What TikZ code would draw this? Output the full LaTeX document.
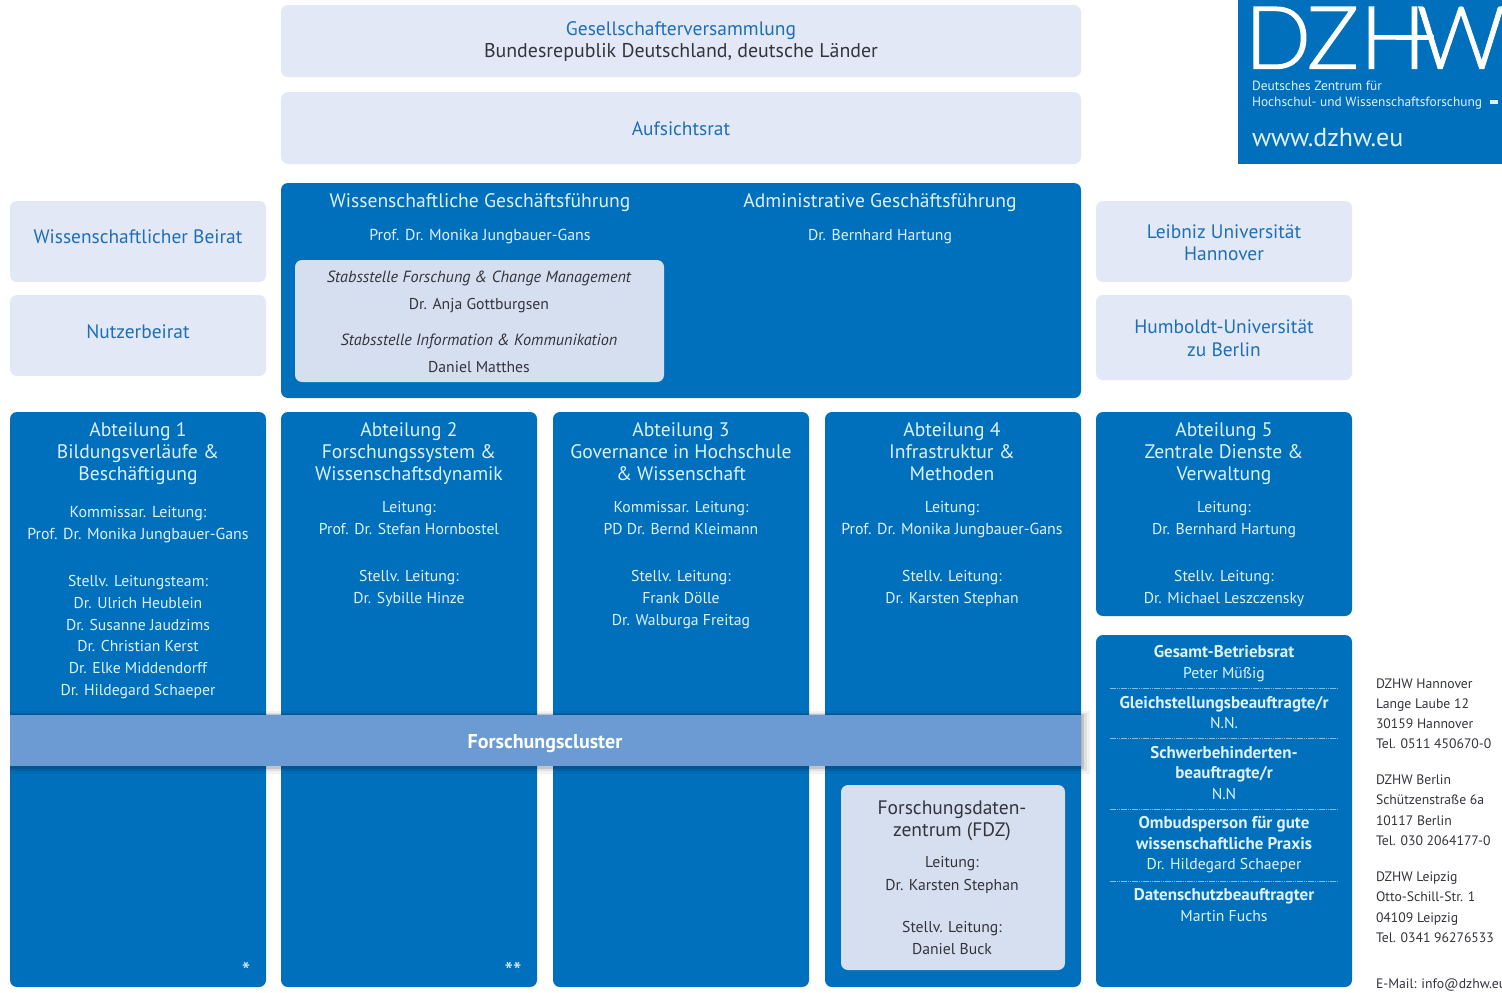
\documentclass[tikz,border=0pt]{standalone}
\usepackage{fontspec}
\setmainfont{PT Sans}
\newfontfamily\logofont[UprightFont=* Light,FakeBold=1.3]{Lato}
\definecolor{dzblue}{HTML}{0070BC}
\definecolor{palebox}{HTML}{E2E8F5}
\definecolor{stabbox}{HTML}{D6DFF0}
\definecolor{clusterblue}{HTML}{6B9BD2}
\definecolor{ondark}{HTML}{DDF1FB}
\definecolor{onpale}{HTML}{1E6FB8}
\definecolor{inkdark}{HTML}{33343C}
\newcommand{\lines}[6]{%
  \foreach \t [count=\i] in {#6}{%
    \node[#2] (#1-\i) at (#3,{#4+(\i-1)*#5}) {\t};
  }}
\newcommand{\fs}[1]{\fontsize{#1}{#1}\selectfont}
\tikzset{
  tl/.style={anchor=base,inner sep=0pt,outer sep=0pt,yshift=-0.6pt},
  box/.style={anchor=north west,inner sep=0pt,outer sep=0pt,rounded corners=7pt},
  bluebox/.style={box,fill=dzblue},
  palefill/.style={box,fill=palebox},
  hd/.style={tl,font=\fs{19.6},text=ondark},
  sm/.style={tl,font=\fs{15.7},text=ondark},
  smw/.style={tl,font=\fs{15.9},text=ondark},
  smb/.style={tl,font=\fs{17}\bfseries,text=ondark},
  hdpale/.style={tl,font=\fs{19.4},text=onpale},
  addr/.style={tl,anchor=base west,font=\fs{13.7},text=inkdark},
  logoletter/.style={tl,font=\logofont\fs{87},text=white},
}
\newcommand{\bx}[7]{% style,name,x0,y0,x1,y1
  \node[#1,minimum width=#5pt-#3pt,minimum height=#6pt-#4pt] (#2) at (#3,#4) {};}
\begin{document}
\begin{tikzpicture}[x=1pt,y=-1pt]
\useasboundingbox (0,0) rectangle (1502,993);
\fill[white] (0,0) rectangle (1502,993);

% governance boxes
\bx{palefill}{gv}{281}{5}{1081}{77}{}
\bx{palefill}{ar}{281}{92}{1081}{164}{}
\bx{palefill}{wb}{10}{201}{266}{282}{}
\bx{palefill}{nb}{10}{295}{266}{376}{}
\bx{palefill}{lu}{1096}{201}{1352}{282}{}
\bx{palefill}{hu}{1096}{295}{1352}{380}{}
\node[tl,font=\fs{19.5},text=onpale] (gv-a) at (681,35) {Gesellschafterversammlung};
\node[tl,font=\fs{19.9},text=inkdark] (gv-b) at (681,57) {Bundesrepublik Deutschland, deutsche Länder};
\node[hdpale] (ar-t) at (681,135) {Aufsichtsrat};
\node[hdpale] (wb-t) at (138,243) {Wissenschaftlicher Beirat};
\node[hdpale] (nb-t) at (138,338) {Nutzerbeirat};
\lines{lu}{hdpale}{1224}{238}{22}{Leibniz Universität,Hannover}
\lines{hu}{hdpale}{1224}{333}{23}{Humboldt-Universität,zu Berlin}

% logo
\node[anchor=north west,inner sep=0pt,fill=dzblue,minimum width=264pt,minimum height=164pt] (logo) at (1238,0) {};
\node[logoletter] (logo-d) at (1278,68) {D};
\node[logoletter] (logo-z) at (1333,68) {Z};
\node[logoletter] (logo-h) at (1393,68) {H};
\node[logoletter] (logo-w) at (1461,68) {W};
\fill[white] (1396,35) rectangle (1434,40);
\node[tl,anchor=base west,font=\fs{13.4},text=ondark] (logo-t1) at (1252,90) {Deutsches Zentrum für};
\node[tl,anchor=base west,font=\fs{13.4},text=ondark] (logo-t2) at (1252,106) {Hochschul- und Wissenschaftsforschung};
\node[anchor=center,inner sep=0pt,fill=ondark,minimum width=8pt,minimum height=4pt] (logo-f) at (1494,102) {};
\node[tl,anchor=base west,font=\fs{26},text=ondark] (logo-g) at (1252,146) {www.dzhw.eu};

% management
\bx{bluebox}{gf}{281}{183}{1081}{398}{}
\node[hd] (gf-a) at (480,207) {Wissenschaftliche Geschäftsführung};
\node[hd] (gf-b) at (880,207) {Administrative Geschäftsführung};
\node[smw] (gf-c) at (480,240) {Prof. Dr. Monika Jungbauer-Gans};
\node[sm] (gf-d) at (880,240) {Dr. Bernhard Hartung};
\bx{box,fill=stabbox}{st}{295}{260}{664}{382}{}
\node[tl,font=\fs{16.2}\itshape,text=inkdark] (st-a) at (479,282) {Stabsstelle Forschung \& Change Management};
\node[tl,font=\fs{15.7},text=inkdark] (st-b) at (479,309) {Dr. Anja Gottburgsen};
\node[tl,font=\fs{16.2}\itshape,text=inkdark] (st-c) at (479,345) {Stabsstelle Information \& Kommunikation};
\node[tl,font=\fs{15.7},text=inkdark] (st-d) at (479,372) {Daniel Matthes};

% departments
\bx{bluebox}{a1}{10}{412}{266}{987}{}
\bx{bluebox}{a2}{281}{412}{537}{987}{}
\bx{bluebox}{a3}{553}{412}{809}{987}{}
\bx{bluebox}{a4}{825}{412}{1081}{987}{}
\bx{bluebox}{a5}{1096}{412}{1352}{616}{}
\bx{bluebox}{br}{1096}{635}{1352}{987}{}

\lines{a1h}{hd}{138}{436}{22}{Abteilung 1,Bildungsverläufe \&,Beschäftigung}
\lines{a1l}{smw}{138}{517}{21.5}{Kommissar. Leitung:,Prof. Dr. Monika Jungbauer-Gans}
\lines{a1s}{sm}{138}{586}{21.7}{Stellv. Leitungsteam:,Dr. Ulrich Heublein,Dr. Susanne Jaudzims,Dr. Christian Kerst,Dr. Elke Middendorff,Dr. Hildegard Schaeper}
\lines{a2h}{hd}{409}{436}{22}{Abteilung 2,Forschungssystem \&,Wissenschaftsdynamik}
\lines{a2l}{sm}{409}{512}{22}{Leitung:,Prof. Dr. Stefan Hornbostel}
\lines{a2s}{sm}{409}{581}{22}{Stellv. Leitung:,Dr. Sybille Hinze}
\lines{a3h}{hd}{681}{436}{22}{Abteilung 3,Governance in Hochschule,\& Wissenschaft}
\lines{a3l}{sm}{681}{512}{22}{Kommissar. Leitung:,PD Dr. Bernd Kleimann}
\lines{a3s}{sm}{681}{581}{21.7}{Stellv. Leitung:,Frank Dölle,Dr. Walburga Freitag}
\lines{a4h}{hd}{952}{436}{22}{Abteilung 4,Infrastruktur \&,Methoden}
\lines{a4l}{smw}{952}{512}{22}{Leitung:,Prof. Dr. Monika Jungbauer-Gans}
\lines{a4s}{sm}{952}{581}{22}{Stellv. Leitung:,Dr. Karsten Stephan}
\lines{a5h}{hd}{1224}{436}{22}{Abteilung 5,Zentrale Dienste \&,Verwaltung}
\lines{a5l}{sm}{1224}{512}{22}{Leitung:,Dr. Bernhard Hartung}
\lines{a5s}{sm}{1224}{581}{22}{Stellv. Leitung:,Dr. Michael Leszczensky}
\node[tl,font=\fs{24},text=ondark] (star-a) at (246,979) {*};
\node[tl,font=\fs{24},text=ondark] (star-b) at (513,979) {**};

% research cluster
\fill[black,opacity=.05] (10,711) rectangle (1090,774);
\fill[black,opacity=.08] (10,713) rectangle (1087,771);
\fill[black,opacity=.12] (10,714) rectangle (1084,768.5);
\node[box,rounded corners=0pt,fill=clusterblue,minimum width=1071pt,minimum height=51pt] (fc) at (10,715) {};
\node[tl,font=\fs{20}\bfseries,text=white] (fc-t) at (545,748) {Forschungscluster};

% FDZ
\bx{box,fill=stabbox}{fdz}{841}{785}{1065}{970}{}
\lines{fdzh}{tl,font=\fs{19.5},text=inkdark}{952}{814}{22}{Forschungsdaten-,zentrum (FDZ)}
\lines{fdzl}{tl,font=\fs{15.7},text=inkdark}{952}{867}{23}{Leitung:,Dr. Karsten Stephan}
\lines{fdzs}{tl,font=\fs{15.7},text=inkdark}{952}{932}{22}{Stellv. Leitung:,Daniel Buck}

% representatives
\node[smb] (br-a) at (1224,657) {Gesamt-Betriebsrat};
\node[sm] (br-b) at (1224,678) {Peter Müßig};
\node[smb] (br-c) at (1224,708) {Gleichstellungsbeauftragte/r};
\node[sm] (br-d) at (1224,728) {N.N.};
\node[smb] (br-e) at (1224,758) {Schwerbehinderten-};
\node[smb] (br-f) at (1224,778) {beauftragte/r};
\node[sm] (br-g) at (1224,799) {N.N};
\node[smb] (br-h) at (1224,828) {Ombudsperson für gute};
\node[smb] (br-i) at (1224,849) {wissenschaftliche Praxis};
\node[sm] (br-j) at (1224,869) {Dr. Hildegard Schaeper};
\node[smb] (br-k) at (1224,900) {Datenschutzbeauftragter};
\node[sm] (br-l) at (1224,921) {Martin Fuchs};
\foreach \yy in {688,738.5,809,881}
  \draw[ondark!60!dzblue,line width=.7pt,dash pattern=on 1.5pt off .7pt] (1110,\yy) -- (1337,\yy);

% addresses
\lines{hn}{addr}{1376}{687.5}{20}{DZHW Hannover,Lange Laube 12,30159 Hannover,Tel. 0511 450670-0}
\lines{bn}{addr}{1376}{784}{20.3}{DZHW Berlin,Schützenstraße 6a,10117 Berlin,Tel. 030 2064177-0}
\lines{lp}{addr}{1376}{881}{20.3}{DZHW Leipzig,Otto-Schill-Str. 1,04109 Leipzig,Tel. 0341 96276533}
\node[addr] (mail) at (1376,988) {E-Mail: info@dzhw.eu};
\end{tikzpicture}
\end{document}
